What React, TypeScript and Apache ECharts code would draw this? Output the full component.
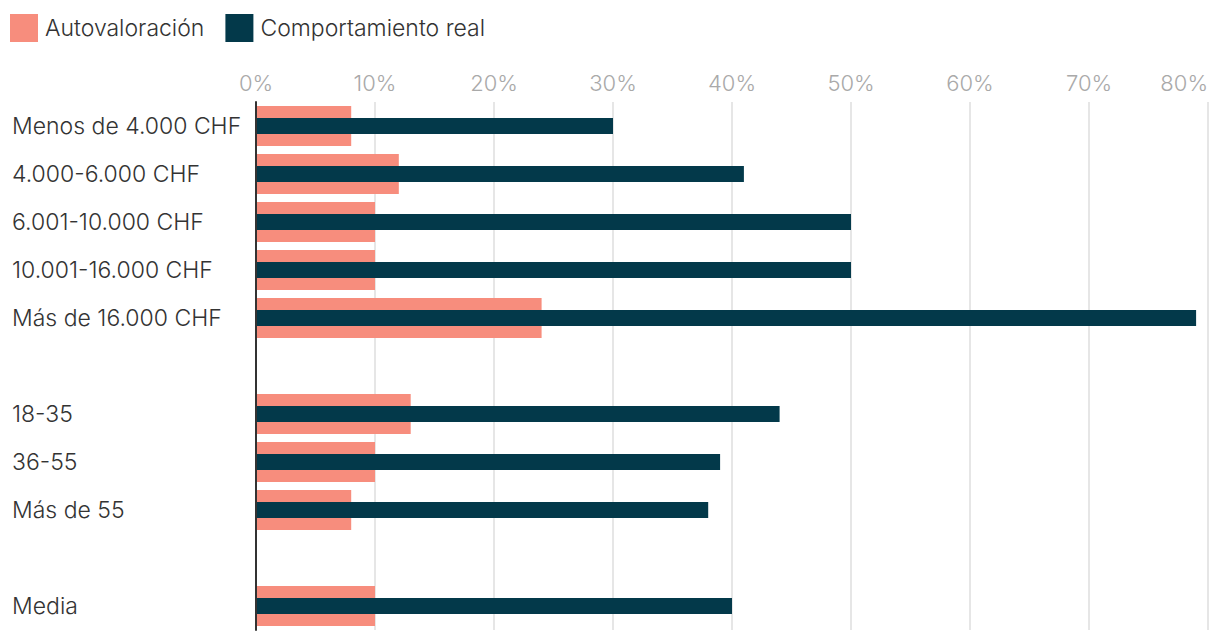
import React, { useEffect, useRef } from "react";
import * as echarts from "echarts";

const categories = [
  "Menos de 4.000 CHF",
  "4.000-6.000 CHF",
  "6.001-10.000 CHF",
  "10.001-16.000 CHF",
  "Más de 16.000 CHF",
  " ",
  "18-35",
  "36-55",
  "Más de 55",
  "  ",
  "Media",
];
const autovaloracion = [8, 12, 10, 10, 24, null, 13, 10, 8, null, 10];
const comportamientoReal = [30, 41, 50, 50, 79, null, 44, 39, 38, null, 40];
const xTicks = { min: 0, max: 80, interval: 10 };

const FONT = "Inter";

export default function App() {
  const ref = useRef<HTMLDivElement>(null);
  useEffect(() => {
    if (!ref.current) return;
    const chart = echarts.init(ref.current, null, { renderer: "svg" });
    chart.setOption({
      animation: false,
      textStyle: { fontFamily: FONT },
      legend: {
        left: 10,
        top: 14,
        padding: 0,
        itemWidth: 28,
        itemHeight: 28,
        itemGap: 21,
        icon: "rect",
        textStyle: {
          fontFamily: FONT,
          fontSize: 23,
          fontWeight: 300,
          color: "#333",
          padding: [0, 0, 0, 2],
        },
        data: ["Autovaloración", "Comportamiento real"],
      },
      grid: { left: 256, right: 12, top: 102, bottom: 8, containLabel: false },
      xAxis: {
        type: "value",
        position: "top",
        min: xTicks.min,
        max: xTicks.max,
        interval: xTicks.interval,
        axisLine: { show: false },
        axisTick: { show: false },
        axisLabel: {
          formatter: "{value}%",
          color: "#a9a9a9",
          fontSize: 22,
          fontWeight: 300,
          fontFamily: FONT,
          margin: 8,
          alignMaxLabel: "right",
        },
        splitLine: { show: true, lineStyle: { color: "#e6e6e6", width: 2 } },
      },
      yAxis: [
        {
          type: "category",
          data: categories,
          inverse: true,
          z: 5,
          axisLine: { show: true, lineStyle: { color: "#333", width: 2 } },
          axisTick: { show: false },
          axisLabel: {
            align: "left",
            margin: 244,
            fontSize: 23,
            fontWeight: 300,
            color: "#333",
            fontFamily: FONT,
          },
        },
        {
          type: "category",
          data: categories,
          inverse: true,
          show: false,
        },
      ],
      series: [
        {
          name: "Autovaloración",
          type: "bar",
          yAxisIndex: 0,
          data: autovaloracion,
          barWidth: 40,
          itemStyle: { color: "#f78d7d" },
        },
        {
          name: "Comportamiento real",
          type: "bar",
          yAxisIndex: 1,
          data: comportamientoReal,
          barWidth: 16,
          itemStyle: { color: "#03394a" },
        },
      ],
    });
    return () => chart.dispose();
  }, []);
  return (
    <div
      ref={ref}
      style={{ position: "absolute", left: 0, top: 0, width: 1220, height: 638 }}
    />
  );
}
